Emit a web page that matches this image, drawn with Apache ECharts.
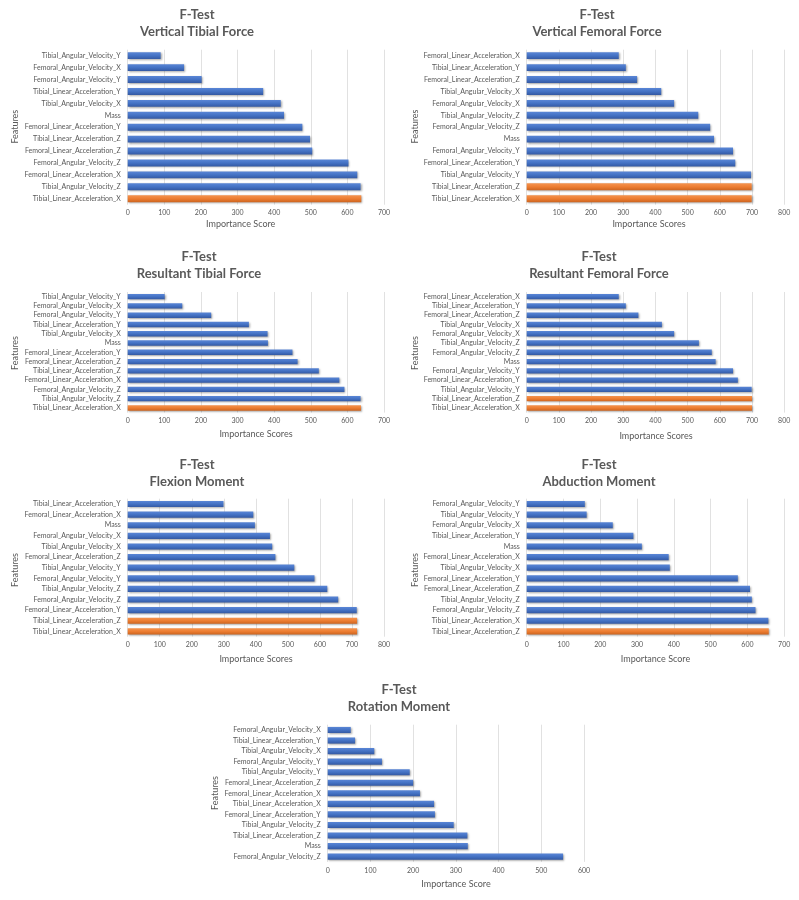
<!DOCTYPE html>
<html><head><meta charset="utf-8">
<script src="https://cdn.jsdelivr.net/npm/echarts@6/dist/echarts.min.js"></script>
<style>html,body{margin:0;padding:0;background:#fff}#c{width:799px;height:900px}</style>
</head><body><div id="c"></div>
<script>
// ---------- DATA (top-to-bottom order as shown) ----------
const vtfFeatures = ['Tibial_Angular_Velocity_Y','Femoral_Angular_Velocity_X','Femoral_Angular_Velocity_Y','Tibial_Linear_Acceleration_Y','Tibial_Angular_Velocity_X','Mass','Femoral_Linear_Acceleration_Y','Tibial_Linear_Acceleration_Z','Femoral_Linear_Acceleration_Z','Femoral_Angular_Velocity_Z','Femoral_Linear_Acceleration_X','Tibial_Angular_Velocity_Z','Tibial_Linear_Acceleration_X'];
const vtfScores = [90,154,202,370,418,427,477,498,504,603,627,636,638];
const vtfTop = ['Tibial_Linear_Acceleration_X'];

const vffFeatures = ['Femoral_Linear_Acceleration_X','Tibial_Linear_Acceleration_Y','Femoral_Linear_Acceleration_Z','Tibial_Angular_Velocity_X','Femoral_Angular_Velocity_X','Tibial_Angular_Velocity_Z','Femoral_Angular_Velocity_Z','Mass','Femoral_Angular_Velocity_Y','Femoral_Linear_Acceleration_Y','Tibial_Angular_Velocity_Y','Tibial_Linear_Acceleration_Z','Tibial_Linear_Acceleration_X'];
const vffScores = [286,308,343,418,458,533,570,582,641,648,697,699,699];
const vffTop = ['Tibial_Linear_Acceleration_Z','Tibial_Linear_Acceleration_X'];

const rtfFeatures = ['Tibial_Angular_Velocity_Y','Femoral_Angular_Velocity_X','Femoral_Angular_Velocity_Y','Tibial_Linear_Acceleration_Y','Tibial_Angular_Velocity_X','Mass','Femoral_Linear_Acceleration_Y','Femoral_Linear_Acceleration_Z','Tibial_Linear_Acceleration_Z','Femoral_Linear_Acceleration_X','Femoral_Angular_Velocity_Z','Tibial_Angular_Velocity_Z','Tibial_Linear_Acceleration_X'];
const rtfScores = [101,149,228,331,382,383,450,464,522,578,592,636,637];
const rtfTop = ['Tibial_Linear_Acceleration_X'];

const rffFeatures = ['Femoral_Linear_Acceleration_X','Tibial_Linear_Acceleration_Y','Femoral_Linear_Acceleration_Z','Tibial_Angular_Velocity_X','Femoral_Angular_Velocity_X','Tibial_Angular_Velocity_Z','Femoral_Angular_Velocity_Z','Mass','Femoral_Angular_Velocity_Y','Femoral_Linear_Acceleration_Y','Tibial_Angular_Velocity_Y','Tibial_Linear_Acceleration_Z','Tibial_Linear_Acceleration_X'];
const rffScores = [286,308,347,420,458,535,575,587,641,656,699,700,700];
const rffTop = ['Tibial_Linear_Acceleration_Z','Tibial_Linear_Acceleration_X'];

const flexFeatures = ['Tibial_Linear_Acceleration_Y','Femoral_Linear_Acceleration_X','Mass','Femoral_Angular_Velocity_X','Tibial_Angular_Velocity_X','Femoral_Linear_Acceleration_Z','Tibial_Angular_Velocity_Y','Femoral_Angular_Velocity_Y','Tibial_Angular_Velocity_Z','Femoral_Angular_Velocity_Z','Femoral_Linear_Acceleration_Y','Tibial_Linear_Acceleration_Z','Tibial_Linear_Acceleration_X'];
const flexScores = [299,392,397,444,451,461,520,583,623,657,715,716,716];
const flexTop = ['Tibial_Linear_Acceleration_Z','Tibial_Linear_Acceleration_X'];

const abdFeatures = ['Femoral_Angular_Velocity_Y','Tibial_Angular_Velocity_Y','Femoral_Angular_Velocity_X','Tibial_Linear_Acceleration_Y','Mass','Femoral_Linear_Acceleration_X','Tibial_Angular_Velocity_X','Femoral_Linear_Acceleration_Y','Femoral_Linear_Acceleration_Z','Tibial_Angular_Velocity_Z','Femoral_Angular_Velocity_Z','Tibial_Linear_Acceleration_X','Tibial_Linear_Acceleration_Z'];
const abdScores = [158,163,234,290,313,386,389,574,607,612,622,657,658];
const abdTop = ['Tibial_Linear_Acceleration_Z'];

const rotFeatures = ['Femoral_Angular_Velocity_X','Tibial_Linear_Acceleration_Y','Tibial_Angular_Velocity_X','Femoral_Angular_Velocity_Y','Tibial_Angular_Velocity_Y','Femoral_Linear_Acceleration_Z','Femoral_Linear_Acceleration_X','Tibial_Linear_Acceleration_X','Femoral_Linear_Acceleration_Y','Tibial_Angular_Velocity_Z','Tibial_Linear_Acceleration_Z','Mass','Femoral_Angular_Velocity_Z'];
const rotScores = [54,64,109,127,192,200,216,249,251,295,327,328,551];
const rotTop = [];

const titles = ['Vertical Tibial Force','Vertical Femoral Force','Resultant Tibial Force','Resultant Femoral Force','Flexion Moment','Abduction Moment','Rotation Moment'];
const xNames = ['Importance Score','Importance Scores','Importance Scores','Importance Scores','Importance Scores','Importance Score','Importance Score'];
const axisMax = [700,800,700,800,800,700,600];

// ---------- LAYOUT ----------
const panels = [
  {f:vtfFeatures,s:vtfScores,h:vtfTop, g:[127.7,49.7,256.3,155], t:[197,23.3], n:[240.7,224.3], y:[15,126.7]},
  {f:vffFeatures,s:vffScores,h:vffTop, g:[526.7,49.7,257.5,155], t:[597,23.3], n:[649,224.3], y:[415,126.5]},
  {f:rtfFeatures,s:rtfScores,h:rtfTop, g:[127.7,292,256.3,120.6], t:[199,265], n:[256,434], y:[15,353]},
  {f:rffFeatures,s:rffScores,h:rffTop, g:[526.7,292,257.5,120.6], t:[599,265], n:[656,436], y:[415,353]},
  {f:flexFeatures,s:flexScores,h:flexTop, g:[127.7,498.7,256.3,138], t:[197,473.3], n:[256,659], y:[15,570]},
  {f:abdFeatures,s:abdScores,h:abdTop, g:[526.7,498.7,257.5,138], t:[599,473.3], n:[655.5,659], y:[415,570]},
  {f:rotFeatures,s:rotScores,h:rotTop, g:[327.7,724.7,256.3,137.2], t:[399,698.4], n:[456,884], y:[215,793]}
];

const FONT = 'Lato, "Open Sans", sans-serif';
const TXT = '#595959';
const blue = new echarts.graphic.LinearGradient(0,0,0,1,[{offset:0,color:'#5a86d6'},{offset:0.5,color:'#4472c4'},{offset:1,color:'#3459a3'}]);
const orange = new echarts.graphic.LinearGradient(0,0,0,1,[{offset:0,color:'#f4934f'},{offset:0.5,color:'#ed7d31'},{offset:1,color:'#cc6420'}]);

const grid=[],xAxis=[],yAxis=[],series=[],graphic=[];
panels.forEach((p,i)=>{
  grid.push({left:p.g[0],top:p.g[1],width:p.g[2],height:p.g[3],containLabel:false});
  xAxis.push({gridIndex:i,type:'value',min:0,max:axisMax[i],interval:100,
    axisLine:{show:false},axisTick:{show:false},
    axisLabel:{color:TXT,fontSize:7,fontFamily:FONT,margin:5},
    splitLine:{show:true,lineStyle:{color:'#d9d9d9',width:0.8}}});
  yAxis.push({gridIndex:i,type:'category',data:p.f,inverse:true,
    axisLine:{show:false},axisTick:{show:false},
    axisLabel:{color:TXT,fontSize:7,fontFamily:FONT,margin:7,interval:0},
    splitLine:{show:false}});
  series.push({type:'bar',xAxisIndex:i,yAxisIndex:i,barWidth:'58%',
    data:p.s.map((v,k)=>({value:v,itemStyle:{color:p.h.includes(p.f[k])?orange:blue}})),
    itemStyle:{shadowColor:'rgba(0,0,0,0.35)',shadowBlur:2,shadowOffsetY:1,shadowOffsetX:1},
    emphasis:{disabled:true},silent:true,animation:false});
  graphic.push({type:'text',x:p.t[0],y:p.t[1],style:{text:'F-Test\n'+titles[i],align:'center',verticalAlign:'middle',textAlign:'center',textVerticalAlign:'middle',fontSize:13,fontWeight:'bold',fontFamily:FONT,fill:TXT,lineHeight:16.7}});
  graphic.push({type:'text',x:p.n[0],y:p.n[1],style:{text:xNames[i],align:'center',verticalAlign:'middle',textAlign:'center',textVerticalAlign:'middle',fontSize:9,fontFamily:FONT,fill:TXT}});
  graphic.push({type:'text',x:p.y[0],y:p.y[1],rotation:Math.PI/2,style:{text:'Features',align:'center',verticalAlign:'middle',textAlign:'center',textVerticalAlign:'middle',fontSize:9,fontFamily:FONT,fill:TXT}});
});

const chart = echarts.init(document.getElementById('c'),null,{renderer:'canvas'});
chart.setOption({backgroundColor:'#ffffff',animation:false,grid,xAxis,yAxis,series,graphic});
</script></body></html>
